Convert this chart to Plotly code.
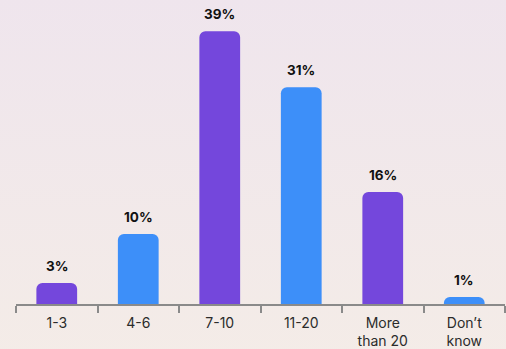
import base64
import plotly.graph_objects as go

# Share of respondents by number of items
categories = ["1-3", "4-6", "7-10", "11-20", "More<br>than 20", "Don’t<br>know"]
shares = [3, 10, 39, 31, 16, 1]
value_labels = ["3%", "10%", "39%", "31%", "16%", "1%"]
bar_colors = ["#7447dc", "#3d8ff9", "#7447dc", "#3d8ff9", "#7447dc", "#3d8ff9"]

# Soft vertical gradient for the page background
svg = (
    '<svg xmlns="http://www.w3.org/2000/svg" width="10" height="100" preserveAspectRatio="none">'
    '<defs><linearGradient id="g" x1="0" y1="0" x2="0" y2="1">'
    '<stop offset="0" stop-color="#efe5ed"/><stop offset="1" stop-color="#f4ece7"/>'
    '</linearGradient></defs><rect width="10" height="100" fill="url(#g)"/></svg>'
)
bg_uri = "data:image/svg+xml;base64," + base64.b64encode(svg.encode()).decode()

fig = go.Figure(
    go.Bar(
        x=categories,
        y=shares,
        marker=dict(color=bar_colors, cornerradius=6, line=dict(width=0)),
        width=0.5,
        hoverinfo="skip",
    )
)

for cat, val, lab in zip(categories, shares, value_labels):
    fig.add_annotation(
        x=cat, y=val, text=f"<b>{lab}</b>", showarrow=False,
        yanchor="bottom", yshift=7,
        font=dict(family="Inter, sans-serif", size=13.5, color="#111111"),
    )

fig.update_layout(
    width=506, height=349,
    margin=dict(l=16, r=1, t=20, b=45),
    paper_bgcolor="#f1e8ea",
    plot_bgcolor="rgba(0,0,0,0)",
    showlegend=False,
    bargap=0.5,
    images=[dict(
        source=bg_uri, xref="paper", yref="paper", x=-0.04, y=1.08,
        sizex=1.1, sizey=1.3, xanchor="left", yanchor="top",
        sizing="stretch", layer="below",
    )],
    xaxis=dict(
        showgrid=False, showline=True, linecolor="#8a8a8a", linewidth=1.5,
        ticks="outside", tickson="boundaries", ticklen=7, tickwidth=1.5,
        tickcolor="#8a8a8a", ticklabelstandoff=5,
        tickfont=dict(family="Inter, sans-serif", size=14, color="#2b2b2b"),
        fixedrange=True,
    ),
    yaxis=dict(
        range=[0, 40.6], visible=False, showgrid=False, zeroline=False,
        fixedrange=True,
    ),
)

fig.write_html("out.html")
